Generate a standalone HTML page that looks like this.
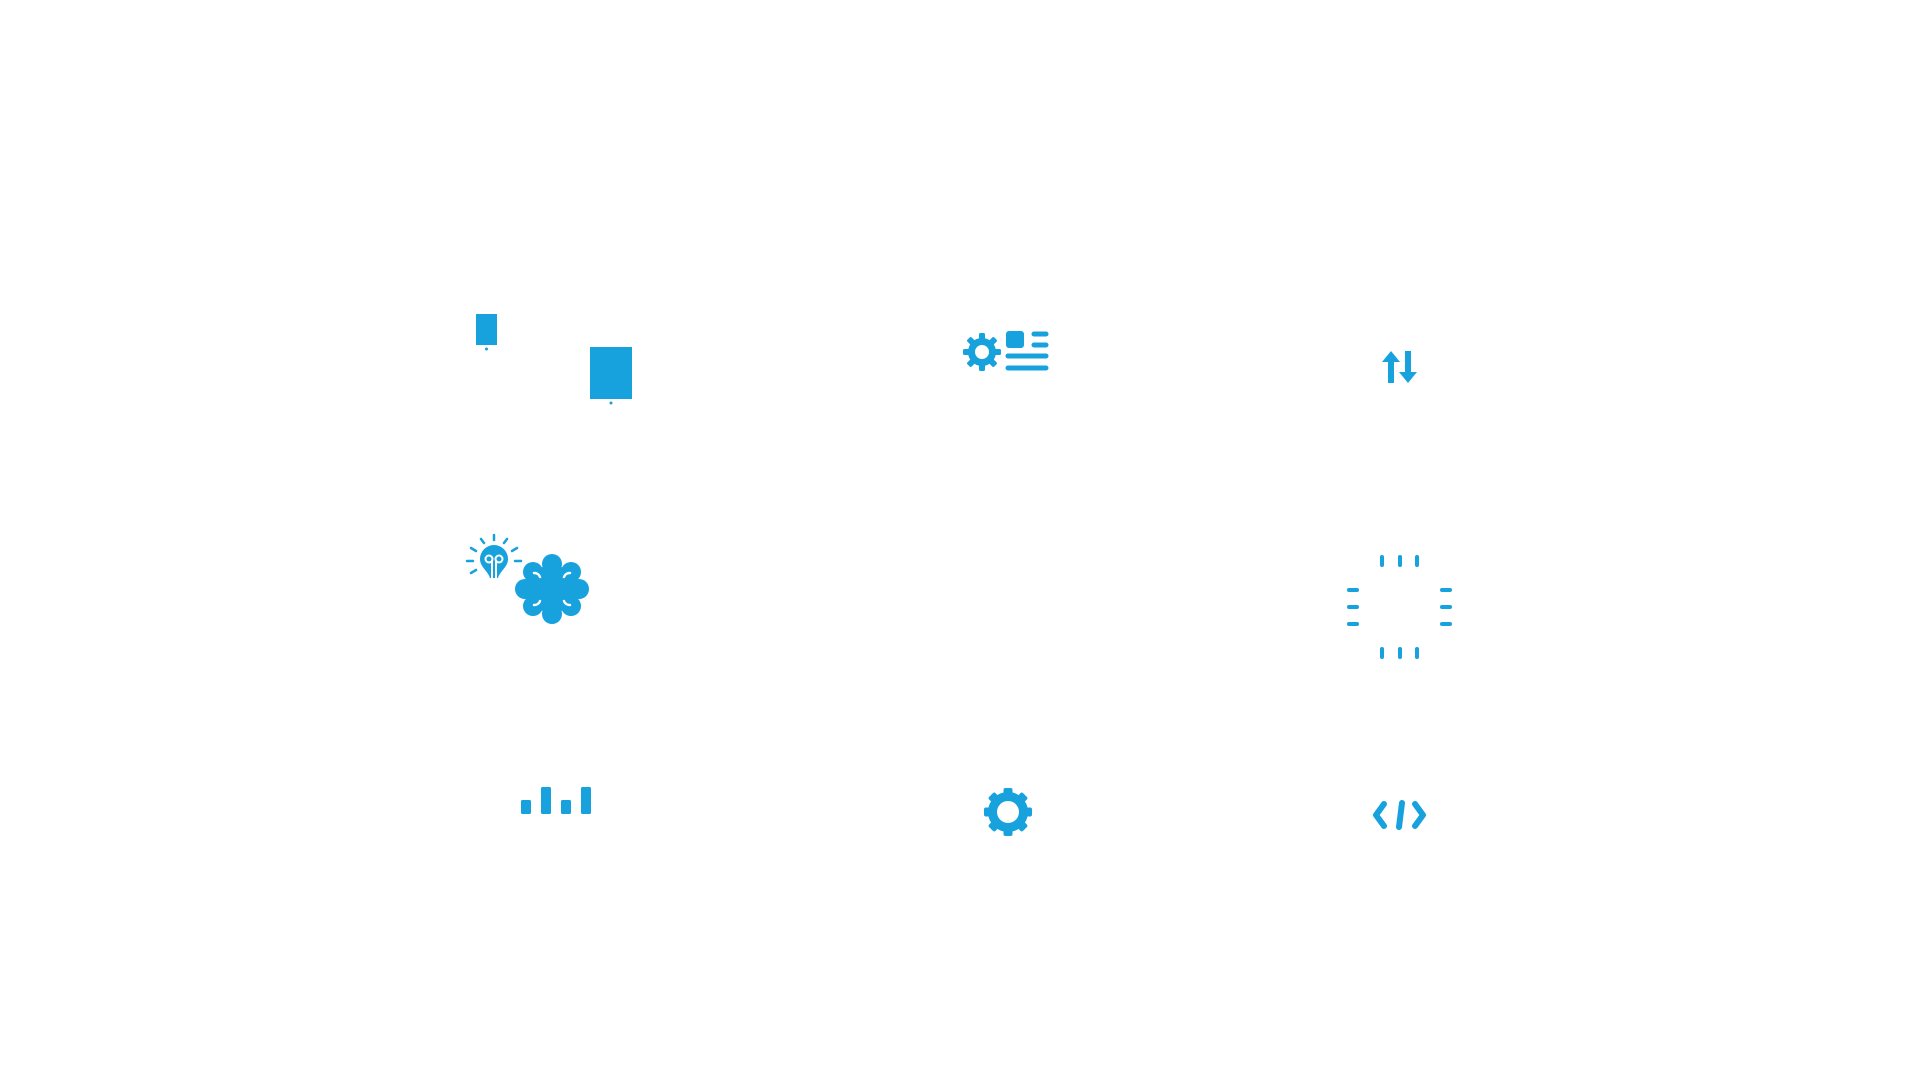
<!DOCTYPE html>
<html><head><meta charset="utf-8"><style>html,body{margin:0;padding:0;background:#fff;width:1920px;height:1080px;overflow:hidden}</style></head>
<body>
<svg width="1920" height="1080" viewBox="0 0 1920 1080" xmlns="http://www.w3.org/2000/svg">
<g fill="#17a2de" stroke="none">
<rect x="476" y="314" width="21" height="31"/>
<circle cx="486.5" cy="349" r="1.5"/>
<rect x="590" y="347" width="42" height="52"/>
<circle cx="611" cy="403" r="1.5"/>
<g transform="translate(982,352)">
<g id="t"><rect x="-3" y="-19" width="6" height="8" rx="1.5"/></g>
<use href="#t" transform="rotate(45)"/><use href="#t" transform="rotate(90)"/><use href="#t" transform="rotate(135)"/>
<use href="#t" transform="rotate(180)"/><use href="#t" transform="rotate(225)"/><use href="#t" transform="rotate(270)"/><use href="#t" transform="rotate(315)"/>
<circle r="10.5" fill="none" stroke="#17a2de" stroke-width="7"/>
</g>
<rect x="1006" y="331" width="18" height="17" rx="3"/>
</g>
<g stroke="#17a2de" stroke-linecap="round" fill="none" stroke-width="5">
<line x1="1034" y1="334" x2="1046" y2="334"/>
<line x1="1034" y1="345" x2="1046" y2="345"/>
<line x1="1008" y1="356" x2="1046" y2="356"/>
<line x1="1008" y1="368" x2="1046" y2="368"/>
</g>
<g fill="#17a2de">
<polygon points="1391,351 1400,362 1394,362 1394,383 1388,383 1388,362 1382,362"/>
<polygon points="1408,383 1417,372 1411,372 1411,351 1405,351 1405,372 1399,372"/>
</g>
<g transform="translate(494,561)">
<path d="M-14,-2 A14,14 0 1 1 14,-2 C14,6 6,10 4,17 L-4,17 C-6,10 -14,6 -14,-2Z" fill="#17a2de"/>
<g stroke="#fff" stroke-width="2" fill="none">
<circle cx="-5" cy="-2" r="3.5"/><circle cx="5" cy="-2" r="3.5"/>
<line x1="-2" y1="-1" x2="-2" y2="18"/><line x1="2" y1="-1" x2="2" y2="18"/>
</g>
<g stroke="#17a2de" stroke-width="2.5" stroke-linecap="round">
<line x1="0" y1="-26" x2="0" y2="-21"/>
<line x1="-13" y1="-22" x2="-10" y2="-18"/><line x1="13" y1="-22" x2="10" y2="-18"/>
<line x1="-23" y1="-13" x2="-18" y2="-10"/><line x1="23" y1="-13" x2="18" y2="-10"/>
<line x1="-27" y1="0" x2="-21" y2="0"/><line x1="27" y1="0" x2="21" y2="0"/>
<line x1="-23" y1="12" x2="-18" y2="9"/>
</g>
</g>
<g transform="translate(552,589)" fill="#17a2de">
<circle r="24"/>
<circle cx="0" cy="-25" r="10"/><circle cx="0" cy="25" r="10"/>
<circle cx="-27" cy="0" r="10"/><circle cx="27" cy="0" r="10"/>
<circle cx="-19" cy="-17" r="10"/><circle cx="19" cy="-17" r="10"/>
<circle cx="-19" cy="17" r="10"/><circle cx="19" cy="17" r="10"/>
<g stroke="#fff" stroke-width="2.5" fill="none" stroke-linecap="round">
<path d="M-12,-12 a6,6 0 0 0 -6,-4"/><path d="M12,-12 a6,6 0 0 1 6,-4"/>
<path d="M-12,12 a6,6 0 0 1 -6,4"/><path d="M12,12 a6,6 0 0 0 6,4"/>
</g>
</g>
<g stroke="#17a2de" stroke-width="4" stroke-linecap="round">
<line x1="1382" y1="557" x2="1382" y2="565"/><line x1="1400" y1="557" x2="1400" y2="565"/><line x1="1417" y1="557" x2="1417" y2="565"/>
<line x1="1382" y1="649" x2="1382" y2="657"/><line x1="1400" y1="649" x2="1400" y2="657"/><line x1="1417" y1="649" x2="1417" y2="657"/>
<line x1="1349" y1="590" x2="1357" y2="590"/><line x1="1349" y1="607" x2="1357" y2="607"/><line x1="1349" y1="624" x2="1357" y2="624"/>
<line x1="1442" y1="590" x2="1450" y2="590"/><line x1="1442" y1="607" x2="1450" y2="607"/><line x1="1442" y1="624" x2="1450" y2="624"/>
</g>
<g fill="#17a2de">
<rect x="521" y="800" width="10" height="14" rx="1.5"/>
<rect x="541" y="787" width="10" height="27" rx="1.5"/>
<rect x="561" y="800" width="10" height="14" rx="1.5"/>
<rect x="581" y="787" width="10" height="27" rx="1.5"/>
</g>
<g transform="translate(1008,812)" fill="#17a2de">
<g id="t2"><rect x="-4.5" y="-24" width="9" height="10" rx="2"/></g>
<use href="#t2" transform="rotate(45)"/><use href="#t2" transform="rotate(90)"/><use href="#t2" transform="rotate(135)"/>
<use href="#t2" transform="rotate(180)"/><use href="#t2" transform="rotate(225)"/><use href="#t2" transform="rotate(270)"/><use href="#t2" transform="rotate(315)"/>
<circle r="15.5" fill="none" stroke="#17a2de" stroke-width="9"/>
</g>
<g stroke="#17a2de" stroke-width="6" stroke-linecap="round" stroke-linejoin="round" fill="none">
<polyline points="1384,804 1376,815 1384,826"/>
<line x1="1402" y1="803" x2="1399" y2="827"/>
<polyline points="1415,804 1423,815 1415,826"/>
</g>
</svg>
</body></html>
